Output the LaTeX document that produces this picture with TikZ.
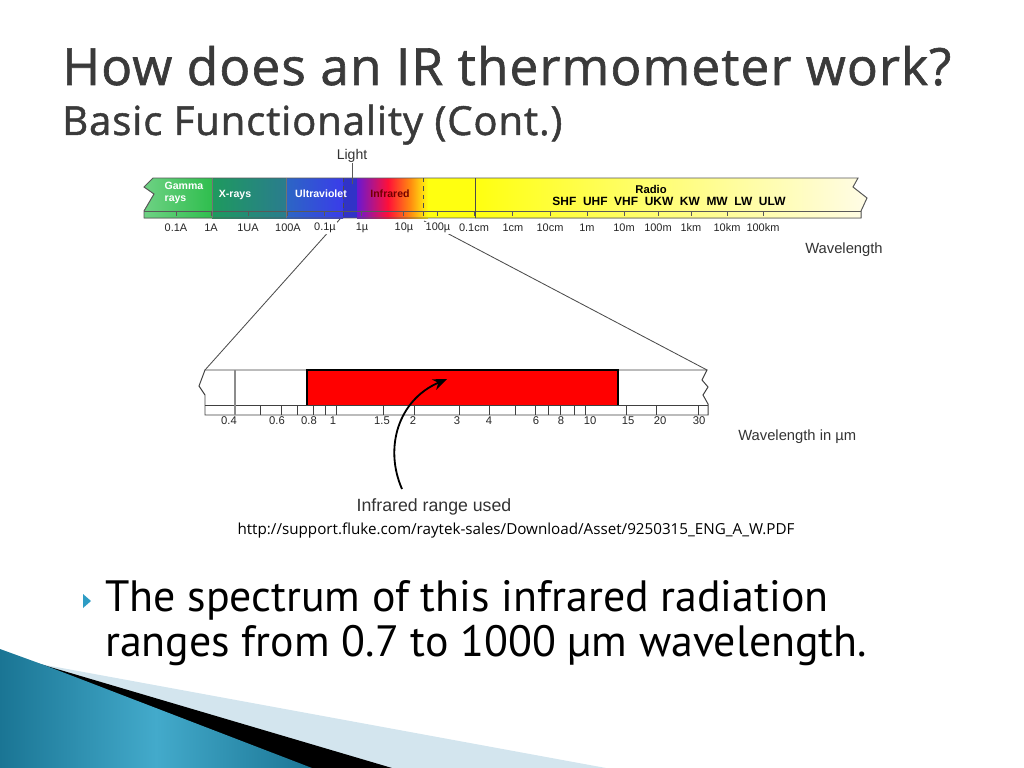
\documentclass[tikz,border=0pt]{standalone}
\usepackage{fontspec}
\setmainfont{Open Sans}
\newfontfamily\titlefont[FakeBold=1.2, LetterSpace=2.2]{Open Sans}
\newfontfamily\bodyfont{PT Sans}
\newfontfamily\diagfont{Liberation Sans}
\usetikzlibrary{arrows.meta}

\definecolor{titlegray}{HTML}{3A3A3A}
\definecolor{gammagreen}{HTML}{2FBE4E}
\definecolor{xraygreen}{HTML}{1E9A5E}
\definecolor{xrayteal}{HTML}{2A7C8E}
\definecolor{uvblue}{HTML}{2C66C4}
\definecolor{uvdeep}{HTML}{3A3CEA}
\definecolor{irviolet}{HTML}{6A18D2}
\definecolor{irred}{HTML}{FF1038}
\definecolor{irorange}{HTML}{FF8A10}
\definecolor{radioyel}{HTML}{FFFF10}
\definecolor{radiopale}{HTML}{FFFCE6}
\definecolor{slidebluel}{HTML}{D3E5EE}
\definecolor{slideteal}{HTML}{1A7594}
\definecolor{slidetealmid}{HTML}{43AACB}
\definecolor{bulletteal}{HTML}{2E9CC4}

\begin{document}
\begin{tikzpicture}[x=0.025cm, y=-0.025cm,
  titletxt/.style={font=\titlefont\fontsize{36.5}{40}\selectfont, text=titlegray, inner sep=0pt, anchor=base west},
  subtxt/.style={font=\titlefont\fontsize{28.5}{32}\selectfont, text=titlegray, inner sep=0pt, anchor=base west},
  bodytxt/.style={font=\bodyfont\fontsize{31.2}{35}\selectfont, inner sep=0pt, anchor=base west},
  ticklbl/.style={font=\diagfont\fontsize{7.8}{9}\selectfont, text=black!85, inner sep=1pt, fill=white},
  barlbl/.style={font=\diagfont\bfseries\fontsize{7.5}{8.5}\selectfont, text=white, inner sep=0pt, align=left},
  difflbl/.style={font=\diagfont\fontsize{10.5}{12}\selectfont, text=black!80, inner sep=0pt},
  edge/.style={draw=black!65, line width=0.7pt},
  zoomline/.style={draw=black!70, line width=0.6pt}
]
\useasboundingbox (0,0) rectangle (1024,768);

% title
\node[titletxt] (title) at (62,85) {How does an IR thermometer work?};
\node[subtxt] (subtitle) at (62,135) {Basic Functionality (Cont.)};

% spectrum bar
\fill[left color=gammagreen!70!white, right color=gammagreen]
  (153,178) -- (212,178) -- (212,218) -- (144,218) -- (144,211) -- (154,194) -- (144,187) -- cycle;
\fill[left color=xraygreen, right color=xrayteal] (212,178) rectangle (286,218);
\fill[left color=uvblue, right color=uvdeep] (286,178) rectangle (343,218);
\fill[uvdeep!85!black] (343,178) rectangle (357,218);
\fill[left color=irviolet, right color=irred] (357,178) rectangle (388,218);
\fill[left color=irred, right color=irorange] (388,178) rectangle (410,218);
\fill[left color=irorange, right color=radioyel] (410,178) rectangle (428,218);
\fill[radioyel] (428,178) rectangle (475,218);
\fill[left color=radioyel, right color=radiopale]
  (475,178) -- (858,178) -- (853,187) -- (867,198) -- (861,211) -- (861,218) -- (475,218) -- cycle;

\draw[edge] (153,178) -- (858,178) -- (853,187) -- (867,198) -- (861,211) -- (861,218) -- (144,218) -- (144,211) -- (154,194) -- (144,187) -- cycle;
\draw[edge] (144,211) -- (861,211);
\draw[edge, draw=black!55] (212,178) -- (212,218);
\draw[edge, draw=black!55] (286,178) -- (286,218);
\draw[edge, draw=black!70, dashed] (343,178) -- (343,218);
\draw[edge, draw=black!70, dashed] (423,178) -- (423,218);
\draw[edge, draw=black!70] (475,178) -- (475,218);
\foreach \x in {176,211,248,287,324,361,403,437,474,512,550,587,624,658,691,727,763}
  \draw[edge] (\x,211) -- (\x,216);

\node[barlbl] (gamma) at (184,193) {Gamma\\rays};
\node[barlbl] (xrays) at (235,195) {X-rays};
\node[barlbl] (uv) at (321,194) {Ultraviolet};
\node[barlbl, text=red!45!black] (ir) at (390,194) {Infrared};
\node[font=\diagfont\bfseries\fontsize{8}{9}\selectfont, inner sep=0pt] (radio) at (651,189) {Radio};
\node[font=\diagfont\bfseries\fontsize{8.5}{9.5}\selectfont, inner sep=0pt] (bands) at (669,201) {SHF\ \ UHF\ \ VHF\ \ UKW\ \ KW\ \ MW\ \ LW\ \ ULW};

\node[difflbl, font=\diagfont\fontsize{10}{11}\selectfont] (light) at (352,156) {Light};
\draw[edge] (light.south) -- (352,184);

% zoom lines
\coordinate (irL) at (340,219);
\coordinate (irR) at (424,221);
\coordinate (zoomL) at (205,370);
\coordinate (zoomR) at (707,370);
\draw[zoomline] (irL) -- (zoomL);
\draw[zoomline] (irR) -- (zoomR);

\foreach \x/\t [count=\i] in {176/0.1A, 211/1A, 248/1UA, 288/100A, 325/0.1µ, 362/1µ, 404/10µ, 438/100µ,
  474/0.1cm, 513/1cm, 550/10cm, 587/1m, 624/10m, 658/100m, 691/1km, 727/10km, 763/100km}
  \node[ticklbl] (wl\i) at (\x,228) {\t};
\node[difflbl, anchor=west] (wavelen) at (805,250) {Wavelength};

% zoomed bar
\fill[white] (205,370) -- (707,370) -- (702,380) -- (708,387) -- (703,395) -- (708,404) -- (708,415) -- (205,415) -- (205,405) -- (205,395) -- (199,386) -- cycle;
\draw[edge, draw=black!75] (205,370) -- (707,370) -- (702,380) -- (708,387) -- (703,395) -- (708,404) -- (708,415) -- (205,415) -- (205,395) -- (199,386) -- cycle;
\draw[edge, draw=black!75] (205,405) -- (708,405);
\draw[edge, draw=black!45, line width=1pt] (235,370) -- (235,415);
\fill[red] (307,370) rectangle (618,405);
\draw[black, line width=1.2pt] (307,405) -- (307,370) -- (618,370) -- (618,405);
\foreach \x in {260,281,297,313,325,336,383,414,459,489,515,535,548,560,574,585,626,656,698}
  \draw[edge, draw=black!75] (\x,405) -- (\x,415);
\foreach \x/\t [count=\i] in {229/0.4, 277/0.6, 309/0.8, 333/1, 382/1.5, 413/2, 457/3, 489/4,
  536/6, 561/8, 590/10, 628/15, 660/20, 699/30}
  \node[ticklbl, font=\diagfont\fontsize{8}{9}\selectfont] (um\i) at (\x,421) {\t};
\node[difflbl, anchor=west] (wavelenum) at (738,437) {Wavelength in µm};

% arrow to the used range
\node[difflbl, font=\diagfont\fontsize{12.6}{14}\selectfont] (used) at (434,507) {Infrared range used};
\coordinate (usedtail) at (402,489);
\coordinate (usedtip) at (447,379);
\draw[black, line width=1.3pt, -{Stealth[length=10pt, width=8pt]}]
  (usedtail) .. controls (384,448) and (398,400) .. (usedtip);

% source
\node[font=\fontsize{10.8}{12}\selectfont, inner sep=0pt] (src) at (516,531) {http://support.fluke.com/raytek-sales/Download/Asset/9250315\_ENG\_A\_W.PDF};

% bullet text
\fill[bulletteal] (83,594) -- (91,601) -- (83,608) -- cycle;
\node[bodytxt] (body1) at (105,611) {The spectrum of this infrared radiation};
\node[bodytxt] (body2) at (105,656) {ranges from 0.7 to 1000 µm wavelength.};

% corner decoration
\fill[slidebluel] (0,660) -- (40,664) -- (606,768) -- (0,768) -- cycle;
\fill[black] (0,660) -- (40,664) -- (392,768) -- (0,768) -- cycle;
\shade[left color=slideteal, right color=slideteal, middle color=slidetealmid]
  (0,649) -- (44,665) -- (312,768) -- (0,768) -- cycle;
\end{tikzpicture}
\end{document}
